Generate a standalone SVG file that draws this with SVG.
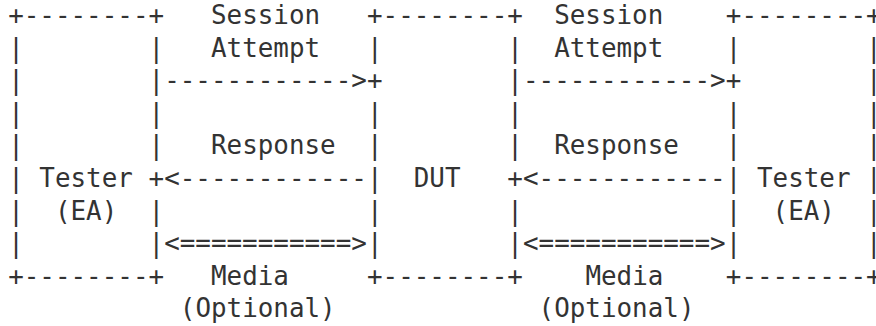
<svg xmlns="http://www.w3.org/2000/svg" width="876" height="326" viewBox="0 0 876 326" xml:space="preserve">
<style>
text { font-family: "DejaVu Sans Mono", "Liberation Mono", monospace; font-size: 25.9px; fill: #333333; white-space: pre; }
</style>
<rect width="876" height="326" fill="#ffffff"/>
<g id="tester-left">
<text x="8.2" y="24">+--------+</text>
<text x="8.2" y="56.6">|        |</text>
<text x="8.2" y="89.2">|        |</text>
<text x="8.2" y="121.8">|        |</text>
<text x="8.2" y="154.4">|        |</text>
<text x="8.2" y="187">| Tester +</text>
<text x="8.2" y="219.6">|  (EA)  |</text>
<text x="8.2" y="252.2">|        |</text>
<text x="8.2" y="284.8">+--------+</text>
</g>
<g id="dut">
<text x="367" y="24">+--------+</text>
<text x="367" y="56.6">|        |</text>
<text x="367" y="89.2">+        |</text>
<text x="367" y="121.8">|        |</text>
<text x="367" y="154.4">|        |</text>
<text x="367" y="187">|  DUT   +</text>
<text x="367" y="219.6">|        |</text>
<text x="367" y="252.2">|        |</text>
<text x="367" y="284.8">+--------+</text>
</g>
<g id="tester-right">
<text x="725.8" y="24">+--------+</text>
<text x="725.8" y="56.6">|        |</text>
<text x="725.8" y="89.2">+        |</text>
<text x="725.8" y="121.8">|        |</text>
<text x="725.8" y="154.4">|        |</text>
<text x="725.8" y="187">| Tester |</text>
<text x="725.8" y="219.6">|  (EA)  |</text>
<text x="725.8" y="252.2">|        |</text>
<text x="725.8" y="284.8">+--------+</text>
</g>
<g id="connectors">
<text x="211" y="24">Session</text>
<text x="211" y="56.6">Attempt</text>
<text x="164.2" y="89.2">------------&gt;</text>
<text x="211" y="154.4">Response</text>
<text x="164.2" y="187">&lt;------------</text>
<text x="164.2" y="252.2">&lt;===========&gt;</text>
<text x="211" y="284.8">Media</text>
<text x="179.8" y="317.4">(Optional)</text>
<text x="554.2" y="24">Session</text>
<text x="554.2" y="56.6">Attempt</text>
<text x="523" y="89.2">------------&gt;</text>
<text x="554.2" y="154.4">Response</text>
<text x="523" y="187">&lt;------------</text>
<text x="523" y="252.2">&lt;===========&gt;</text>
<text x="585.4" y="284.8">Media</text>
<text x="538.6" y="317.4">(Optional)</text>
</g>
</svg>
